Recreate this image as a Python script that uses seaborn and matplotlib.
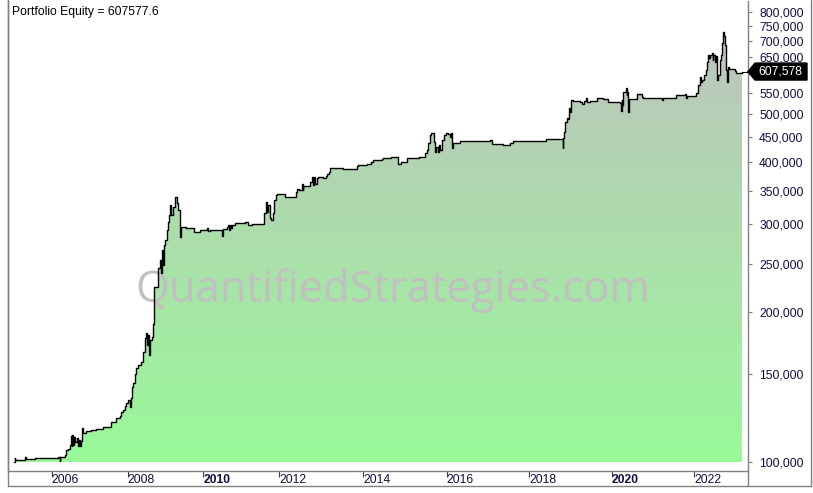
import numpy as np
import matplotlib
matplotlib.use("Agg")
import matplotlib.pyplot as plt
import seaborn as sns
from matplotlib.patches import Polygon
from matplotlib.lines import Line2D
from matplotlib.ticker import NullLocator
from matplotlib.transforms import ScaledTranslation, blended_transform_factory

# Equity curve: bar number (trading days since start) and equity
bars = [0, 3, 6, 64, 72, 124, 264, 274, 278, 304,
        312, 324, 334, 340, 345, 350, 356, 361, 366, 375,
        384, 390, 396, 402, 408, 412, 434, 464, 494, 534,
        584, 614, 634, 644, 654, 664, 674, 684, 698, 701,
        708, 714, 724, 734, 744, 764, 776, 786, 792, 798,
        804, 810, 816, 826, 834, 840, 866, 873, 879, 885,
        891, 897, 906, 916, 924, 930, 936, 942, 952, 966,
        980, 984, 993, 996, 1000, 1032, 1080, 1116, 1156, 1161,
        1176, 1246, 1251, 1276, 1284, 1290, 1296, 1302, 1308, 1326,
        1386, 1404, 1428, 1502, 1512, 1518, 1524, 1533, 1539, 1552,
        1560, 1569, 1580, 1626, 1692, 1698, 1710, 1728, 1731, 1734,
        1776, 1788, 1794, 1800, 1806, 1815, 1824, 1854, 1872, 1878,
        1890, 1896, 1972, 2056, 2061, 2118, 2142, 2156, 2206, 2211,
        2260, 2301, 2320, 2356, 2432, 2466, 2478, 2484, 2496, 2502,
        2520, 2526, 2532, 2541, 2547, 2556, 2565, 2580, 2592, 2604,
        2616, 2622, 2630, 2634, 2676, 2856, 2870, 2936, 2976, 2996,
        3190, 3292, 3296, 3300, 3306, 3316, 3324, 3332, 3336, 3340,
        3352, 3396, 3410, 3417, 3432, 3438, 3456, 3500, 3536, 3561,
        3636, 3640, 3645, 3650, 3656, 3670, 3675, 3680, 3686, 3690,
        3740, 3770, 3774, 3886, 3896, 3972, 4026, 4032, 4038, 4092,
        4106, 4116, 4120, 4128, 4140, 4152, 4160, 4164, 4170, 4176,
        4186, 4191, 4196, 4206, 4212, 4215, 4220, 4226, 4236, 4242,
        4246, 4252, 4260, 4266, 4272, 4278, 4284, 4292, 4326, 4332,
        4366]

equity = [100000, 101870, 100930, 102200, 101260, 101720, 102200, 100460, 102480, 103290,
          105700, 106040, 108170, 112770, 107670, 113290, 108170, 112250, 109680, 111730,
          107820, 110700, 107670, 110190, 116850, 114180, 115560, 115940, 116310, 117720,
          120470, 122380, 123690, 126170, 127160, 129540, 131340, 133180, 129120, 134410,
          141620, 143870, 150180, 154190, 156560, 158960, 166250, 177360, 181500, 171710,
          179830, 163960, 175730, 178430, 189210, 224810, 245100, 254330, 239500, 266360,
          248520, 272580, 278950, 292150, 303570, 313120, 327930, 313120, 325360, 340750,
          330980, 320440, 316030, 283240, 296640, 294460, 289870, 292150, 294460, 290800,
          292150, 284160, 293500, 295820, 298970, 292150, 298970, 294860, 298560, 301340,
          302730, 298970, 299940, 315590, 332050, 317500, 327930, 308800, 305960, 316030,
          335600, 343440, 345030, 340750, 348710, 353090, 351470, 361350, 351470, 358030,
          364190, 373770, 359690, 373220, 361350, 371500, 373220, 370990, 374950, 378430,
          381950, 388540, 386750, 392680, 394500, 396330, 400000, 403720, 405590, 407470,
          408780, 396330, 399450, 406900, 408780, 416410, 422800, 436100, 453150, 457990,
          439330, 419490, 429300, 418910, 432690, 422800, 442800, 453150, 457990, 455240,
          448980, 457360, 426140, 436100, 440760, 442800, 434720, 432690, 437310, 440760,
          444850, 426140, 446910, 460110, 481890, 490880, 487940, 512680, 503990, 532720,
          530990, 528540, 522230, 530270, 536920, 528540, 530990, 536920, 535190, 528540,
          525400, 507020, 532720, 520540, 552020, 562320, 545180, 552790, 504690, 534450,
          547700, 539410, 536920, 532720, 536920, 545180, 547700, 536920, 542660, 551000,
          570960, 591640, 579730, 584310, 597970, 611950, 635880, 655870, 646840, 655870,
          661040, 640880, 655870, 635880, 652850, 597970, 584310, 597970, 640880, 655870,
          694230, 730440, 716070, 686900, 611950, 579730, 621350, 613930, 609130, 604360,
          607577.6]

start_capital = 100000

# Year labels on the bar axis (bar number of the first bar of each year)
year_labels = ["2006", "2008", "2010", "2012", "2014", "2016", "2018", "2020", "2022"]
year_bars = [226, 682, 1136, 1592, 2096, 2596, 3092, 3586, 4082]
bold_years = ["2010", "2020"]

y_ticks = [100000, 150000, 200000, 250000, 300000, 350000, 400000, 450000,
           500000, 550000, 600000, 650000, 700000, 750000, 800000]
# 600,000 sits under the last-value marker and is not shown
hidden_ticks = [600000]

title = "Portfolio Equity = " + str(equity[-1])
watermark = "QuantifiedStrategies.com"

sns.set_style("white")
plt.rcParams['font.family'] = ['Liberation Sans', 'DejaVu Sans']

W, H = 813, 493
fig = plt.figure(figsize=(W / 100, H / 100), dpi=100)
ax = fig.add_axes([8 / W, 22 / H, 740 / W, 470 / H])
ax.set_yscale('log')
ax.set_xlim(-36, 4404)
ax.set_ylim(95900, 841800)
ax.set_autoscale_on(False)

# Gradient fill under the equity curve (silver at top -> pale green at bottom)
top_col = np.array([192, 192, 192]) / 255
bot_col = np.array([152, 251, 152]) / 255
t = np.linspace(0, 1, 256)[:, None]
grad = (top_col * (1 - t) + bot_col * t)[:, None, :]
im = ax.imshow(grad, extent=[0, 1, 0, 1], transform=ax.transAxes,
               aspect='auto', interpolation='bilinear', zorder=1)
fill = ax.fill_between(bars, equity, start_capital, step='post',
                       facecolor='none', edgecolor='none')
im.set_clip_path(fill.get_paths()[0], transform=ax.transData)

# Watermark
ax.text(0.52, 0.384, watermark, transform=ax.transAxes, ha='center', va='center',
        fontsize=31.4, color='#c0c0c0', family=['Open Sans', 'DejaVu Sans'], zorder=2)

# Equity line
sns.lineplot(x=bars, y=equity, ax=ax, color='black', linewidth=1.0,
             drawstyle='steps-post', estimator=None, sort=False, zorder=3)
ax.plot([bars[-1], ax.get_xlim()[1]], [equity[-1], equity[-1]],
        color='black', linewidth=0.8, zorder=3)

# Title inside the pane
ax.text(0.0054, 0.989, title, transform=ax.transAxes, ha='left', va='top',
        fontsize=8.7, color='black')

# Spines / frame
for side in ['left', 'bottom', 'right']:
    ax.spines[side].set_color('#808080')
    ax.spines[side].set_linewidth(1.0)
ax.spines['top'].set_visible(False)

# Y axis on the right
ax.yaxis.tick_right()
ax.set_yticks(y_ticks)
ax.set_yticklabels(["" if v in hidden_ticks else f"{v:,}" for v in y_ticks])
ax.yaxis.set_minor_locator(NullLocator())
ax.tick_params(axis='y', which='major', right=True, length=3, width=0.8, color='#808080',
               labelcolor='#101040', labelsize=8.7, pad=5)

# X axis with year labels to the right of each tick
ax.set_xticks(year_bars)
ax.set_xticklabels(year_labels)
ax.xaxis.set_minor_locator(NullLocator())
ax.tick_params(axis='x', which='major', bottom=True, direction='out', length=4, width=0.8,
               color='#404040', labelcolor='#101040', labelsize=8.7, pad=-2)
for lab in ax.get_xticklabels():
    lab.set_ha('left')
    if lab.get_text() in bold_years:
        lab.set_fontweight('bold')

# Last value marker on the price axis
anchor = blended_transform_factory(ax.transAxes, ax.transData)
off = fig.dpi_scale_trans + ScaledTranslation(1.0, equity[-1], anchor)
marker = Polygon([(0, 0), (0.07, 0.085), (0.59, 0.085), (0.59, -0.085), (0.07, -0.085)],
                 closed=True, facecolor='black', edgecolor='black',
                 transform=off, clip_on=False, zorder=5)
ax.add_patch(marker)
ax.text(0.105, 0, f"{round(equity[-1]):,}", transform=off, ha='left', va='center',
        fontsize=8.7, color='white', zorder=6, clip_on=False)

# Outer frame lines
frame = dict(transform=fig.transFigure, color='#808080', linewidth=1.0)
fig.add_artist(Line2D([8 / W, 8 / W], [7 / H, 1], **frame))
fig.add_artist(Line2D([8 / W, 811 / W], [7 / H, 7 / H], **frame))
fig.add_artist(Line2D([811 / W, 811 / W], [7 / H, 1], **frame))
fig.add_artist(Line2D([748 / W, 748 / W], [7 / H, 22 / H], **frame))

fig.savefig("out.png", dpi=100)
